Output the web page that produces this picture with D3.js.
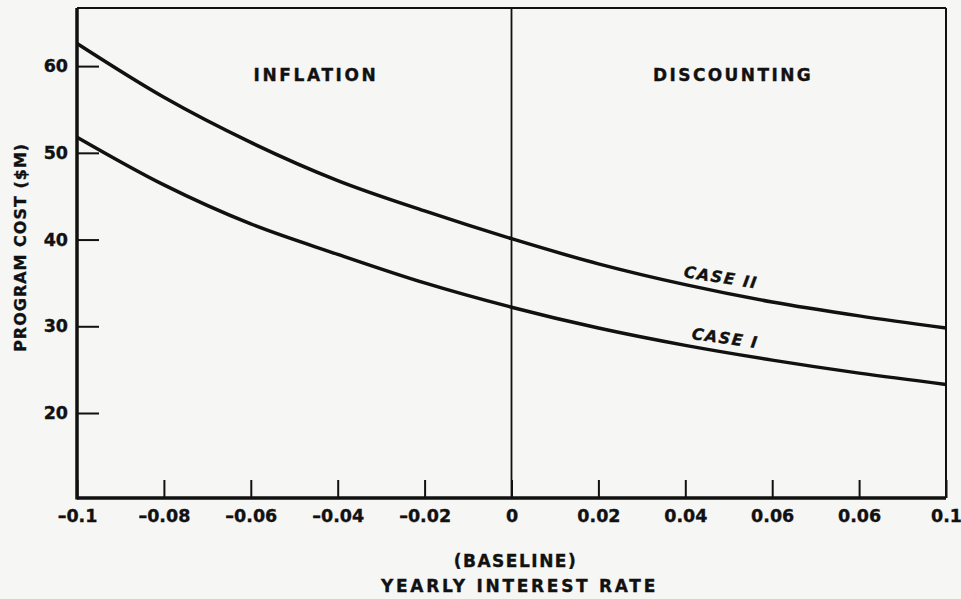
<!DOCTYPE html>
<html>
<head>
<meta charset="utf-8">
<script src="https://cdn.jsdelivr.net/npm/d3@7"></script>
<style>
  html, body { margin: 0; padding: 0; background: #f6f6f4; }
  svg { display: block; }
  text { font-family: "DejaVu Sans", sans-serif; font-weight: bold; fill: #111; stroke: #111; stroke-width: 0.35px; }
</style>
</head>
<body>
<svg id="chart"></svg>
<script>
// data
const rates = [-0.1, -0.08, -0.06, -0.04, -0.02, 0, 0.02, 0.04, 0.06, 0.08, 0.1];
const caseI = [51.8, 46.3, 41.8, 38.3, 35.0, 32.2, 29.8, 27.8, 26.1, 24.6, 23.3];
const caseII = [62.6, 56.4, 51.2, 46.8, 43.3, 40.1, 37.2, 34.8, 32.8, 31.2, 29.8];

const xTicks = [-0.1, -0.08, -0.06, -0.04, -0.02, 0, 0.02, 0.04, 0.06, 0.08, 0.1];
// the original prints 0.06 twice
const xTickLabels = ["\u20130.1", "\u20130.08", "\u20130.06", "\u20130.04", "\u20130.02", "0", "0.02", "0.04", "0.06", "0.06", "0.1"];
const yTicks = [20, 30, 40, 50, 60];

const w = 961;
const h = 599;
const margin = { top: 8, right: 15, bottom: 101, left: 77 };

const svg = d3.select("#chart").attr("width", w).attr("height", h);

const x = d3.scaleLinear().domain([-0.1, 0.1]).range([margin.left, w - margin.right]);
const y = d3.scaleLinear().domain([10.2, 66.7]).range([h - margin.bottom, margin.top]);

// x axis, ticks pointing up into the plot
const xAxis = d3.axisBottom(x)
  .tickValues(xTicks)
  .tickFormat((d, i) => xTickLabels[i])
  .tickSizeInner(-18)
  .tickSizeOuter(0)
  .tickPadding(12);

svg.append("g")
  .attr("transform", `translate(0,${h - margin.bottom})`)
  .call(xAxis)
  .call(g => g.select(".domain").remove())
  .call(g => g.selectAll("line").attr("stroke", "#111").attr("stroke-width", 2))
  .call(g => g.selectAll("text").style("font-size", "17.5px").attr("fill", "#111"));

// y axis, ticks pointing right
const yAxis = d3.axisLeft(y)
  .tickValues(yTicks)
  .tickSizeInner(-22)
  .tickSizeOuter(0)
  .tickPadding(9);

svg.append("g")
  .attr("transform", `translate(${margin.left},0)`)
  .call(yAxis)
  .call(g => g.select(".domain").remove())
  .call(g => g.selectAll("line").attr("stroke", "#111").attr("stroke-width", 2))
  .call(g => g.selectAll("text").style("font-size", "17.5px").attr("fill", "#111"));

// frame
const [x0, x1] = x.range();
const [y0, y1] = y.range();
svg.append("line").attr("x1", x0).attr("x2", x1).attr("y1", y1).attr("y2", y1)
  .attr("stroke", "#111").attr("stroke-width", 2);
svg.append("line").attr("x1", x1).attr("x2", x1).attr("y1", y1).attr("y2", y0)
  .attr("stroke", "#111").attr("stroke-width", 2);
svg.append("line").attr("x1", x0).attr("x2", x1).attr("y1", y0).attr("y2", y0)
  .attr("stroke", "#111").attr("stroke-width", 3.5);
svg.append("line").attr("x1", x0).attr("x2", x0).attr("y1", y1).attr("y2", y0 + 1.5)
  .attr("stroke", "#111").attr("stroke-width", 3.5);

// baseline divider at zero
svg.append("line").attr("x1", x(0)).attr("x2", x(0)).attr("y1", y1).attr("y2", y0)
  .attr("stroke", "#111").attr("stroke-width", 1.8);

// curves
const line = d3.line()
  .x((d, i) => x(rates[i]))
  .y(d => y(d))
  .curve(d3.curveMonotoneX);

[caseI, caseII].forEach(series => {
  svg.append("path")
    .datum(series)
    .attr("d", line)
    .attr("fill", "none")
    .attr("stroke", "#111")
    .attr("stroke-width", 3.5);
});

// region labels
svg.append("text")
  .attr("x", x(-0.045)).attr("y", y(58.3))
  .attr("text-anchor", "middle")
  .style("font-size", "17px").style("letter-spacing", "2.6px")
  .text("INFLATION");

svg.append("text")
  .attr("x", x(0.051)).attr("y", y(58.3))
  .attr("text-anchor", "middle")
  .style("font-size", "17px").style("letter-spacing", "2.4px")
  .text("DISCOUNTING");

// curve labels
svg.append("text")
  .attr("transform", `translate(${x(0.048)},${y(35.0)}) rotate(9)`)
  .attr("text-anchor", "middle")
  .style("font-size", "16px").style("font-style", "italic").style("letter-spacing", "1.5px")
  .text("CASE II");

svg.append("text")
  .attr("transform", `translate(${x(0.049)},${y(28.0)}) rotate(8)`)
  .attr("text-anchor", "middle")
  .style("font-size", "16px").style("font-style", "italic").style("letter-spacing", "1.5px")
  .text("CASE I");

// axis titles
svg.append("text")
  .attr("x", x(0) + 4).attr("y", 567)
  .attr("text-anchor", "middle")
  .style("font-size", "17px").style("letter-spacing", "1.5px")
  .text("(BASELINE)");

svg.append("text")
  .attr("x", x(0) + 8).attr("y", 592)
  .attr("text-anchor", "middle")
  .style("font-size", "17px").style("letter-spacing", "2.7px")
  .text("YEARLY INTEREST RATE");

svg.append("text")
  .attr("transform", `translate(26,${y(39.1)}) rotate(-90)`)
  .attr("text-anchor", "middle")
  .style("font-size", "16px").style("letter-spacing", "1px")
  .text("PROGRAM COST ($M)");
</script>
</body>
</html>
